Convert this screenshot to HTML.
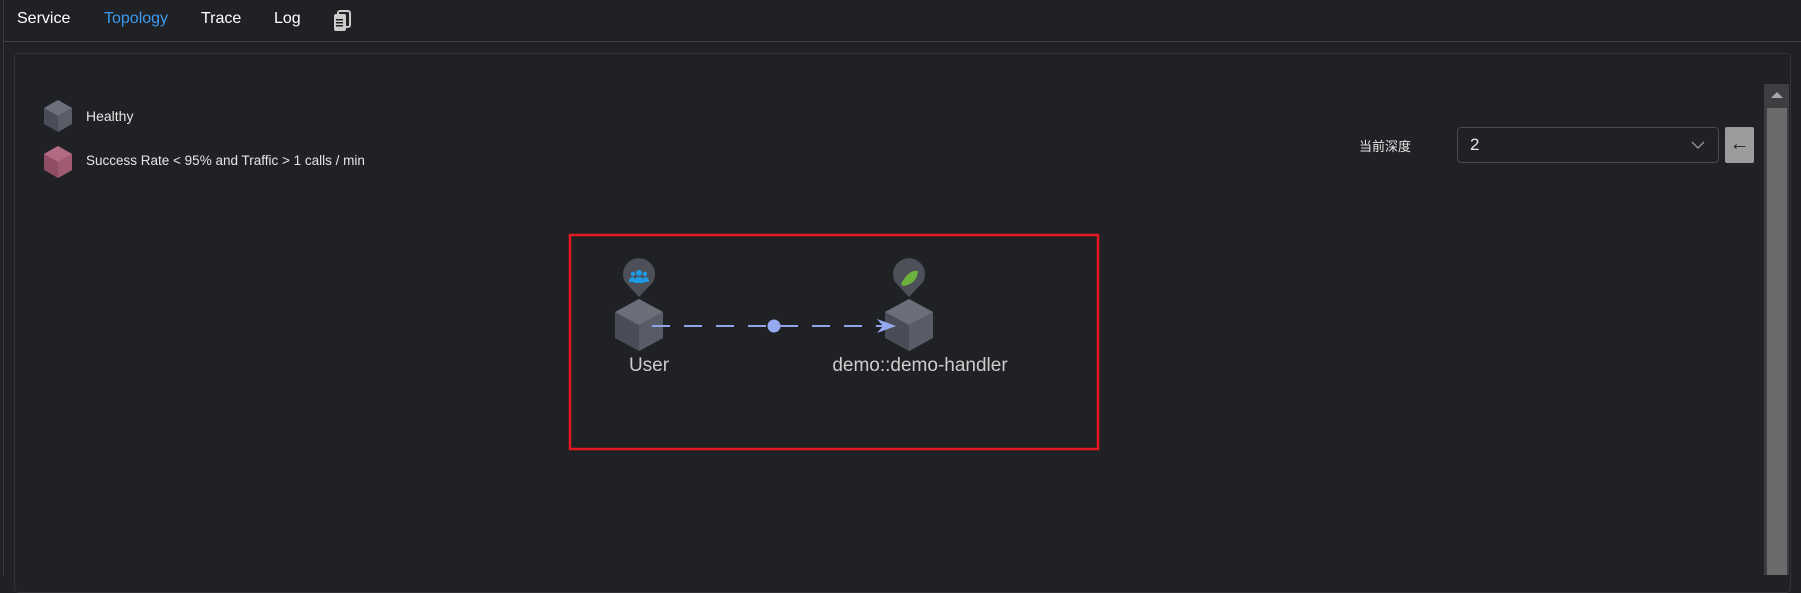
<!DOCTYPE html>
<html><head><meta charset="utf-8"><style>
*{margin:0;padding:0;box-sizing:border-box}
body{width:1801px;height:575px;background:#202124;overflow:hidden;position:relative;font-family:"Liberation Sans","Noto Sans CJK SC",sans-serif;color:#ddd}
.tab{position:absolute;top:10px;font-size:16px;color:#fff}
.abs{position:absolute}
</style></head><body>
<div class="abs" style="left:3px;top:0;width:1px;height:575px;background:#3a3b3e"></div>
<div class="tab" style="left:17px">Service</div>
<div class="tab" style="left:104px;color:#3c9af0">Topology</div>
<div class="tab" style="left:201px">Trace</div>
<div class="tab" style="left:274px">Log</div>
<svg class="abs" style="left:333px;top:10px" width="20" height="22"><rect x="5" y="1" width="12" height="16" rx="2" fill="none" stroke="#ccc" stroke-width="2"/><rect x="1" y="4" width="12" height="17" rx="2" fill="#ccc"/><rect x="3" y="9" width="7" height="1.5" fill="#202124"/><rect x="3" y="12" width="7" height="1.5" fill="#202124"/><rect x="3" y="15" width="7" height="1.5" fill="#202124"/></svg>
<div class="abs" style="left:3px;top:41px;width:1798px;height:1px;background:#3e3f42"></div>
<div class="abs" style="left:14px;top:53px;width:1777px;height:540px;border:1px solid #333437;border-radius:5px;background:#202124"></div>
<svg class="abs" style="left:0;top:0" width="1801" height="575">
<g transform="translate(58,116)"><polygon points="0,-16 14,-8 14,8 0,16 -14,8 -14,-8" fill="#4a4d57"/><polygon points="0,-16 14,-8 0,0 -14,-8" fill="#6b707c"/><polygon points="0,0 14,-8 14,8 0,16" fill="#595d68"/></g>
<g transform="translate(58,162)"><polygon points="0,-16 14,-8 14,8 0,16 -14,8 -14,-8" fill="#8e4d63"/><polygon points="0,-16 14,-8 0,0 -14,-8" fill="#b46a82"/><polygon points="0,0 14,-8 14,8 0,16" fill="#a05a71"/></g>
<rect x="570" y="235" width="528" height="214" fill="none" stroke="#e3191f" stroke-width="2.5"/>
<g transform="translate(639,325)">
<path d="M0,-28 L-14,-43 A16,16 0 1 1 14,-43 Z" fill="#4d5058"/>
<polygon points="0,-26 24,-13 24,13 0,26 -24,13 -24,-13" fill="#4a4d57"/><polygon points="0,-26 24,-13 0,0 -24,-13" fill="#6a6f7a"/><polygon points="0,0 24,-13 24,13 0,26" fill="#585c67"/>
</g>
<g transform="translate(909,325)">
<path d="M0,-28 L-14,-43 A16,16 0 1 1 14,-43 Z" fill="#4d5058"/>
<polygon points="0,-26 24,-13 24,13 0,26 -24,13 -24,-13" fill="#4a4d57"/><polygon points="0,-26 24,-13 0,0 -24,-13" fill="#6a6f7a"/><polygon points="0,0 24,-13 24,13 0,26" fill="#585c67"/>
</g>
<g fill="#1e9be6" transform="translate(639,277)"><circle cx="0" cy="-4" r="3"/><circle cx="-6" cy="-3" r="2.2"/><circle cx="6" cy="-3" r="2.2"/><path d="M-5,6 Q-5,0 0,0 Q5,0 5,6Z"/><path d="M-10,5 Q-10,0 -6,0 Q-4,0 -4,5Z"/><path d="M10,5 Q10,0 6,0 Q4,0 4,5Z"/></g>
<path d="M901,284 Q909,269 918,271 Q917,284 903,286 Z" fill="#6cb33e"/>
<line x1="652" y1="326" x2="892" y2="326" stroke="#8fa5e8" stroke-width="2" stroke-dasharray="18,14"/>
<circle cx="774" cy="326" r="6.5" fill="#94a9f0"/>
<path d="M877,319 L896,326 L877,333 L883,326 Z" fill="#94a9f0"/>
<text x="649" y="371" fill="#ccc" font-size="19" text-anchor="middle" font-family="Liberation Sans">User</text>
<text x="920" y="371" fill="#ccc" font-size="19" text-anchor="middle" font-family="Liberation Sans">demo::demo-handler</text>
</svg>
<div class="abs" style="left:86px;top:108px;font-size:14px;color:#e6e6e6">Healthy</div>
<div class="abs" style="left:86px;top:153px;font-size:13.5px;color:#e6e6e6">Success Rate &lt; 95% and Traffic &gt; 1 calls / min</div>
<div class="abs" style="left:1359px;top:136px;font-size:13px;color:#e6e6e6">当前深度</div>
<div class="abs" style="left:1457px;top:127px;width:262px;height:36px;border:1px solid #4a4b4f;border-radius:4px"></div>
<div class="abs" style="left:1470px;top:135px;font-size:17px;color:#e6e6e6">2</div>
<svg class="abs" style="left:1690px;top:140px" width="16" height="10"><path d="M2,2 L8,8 L14,2" stroke="#999" stroke-width="1.3" fill="none"/></svg>
<div class="abs" style="left:1725px;top:127px;width:29px;height:36px;background:#9c9c9c;border-radius:2px;color:#222;font-size:20px;text-align:center;line-height:34px">←</div>
<div class="abs" style="left:1764px;top:84px;width:25px;height:491px;background:#3d3e41"></div>
<div class="abs" style="left:1767px;top:108px;width:20px;height:467px;background:#6b6b6b"></div>
<svg class="abs" style="left:1770px;top:90px" width="14" height="10"><path d="M1,8 L7,2 L13,8Z" fill="#a8a8a8"/></svg>
</body></html>
